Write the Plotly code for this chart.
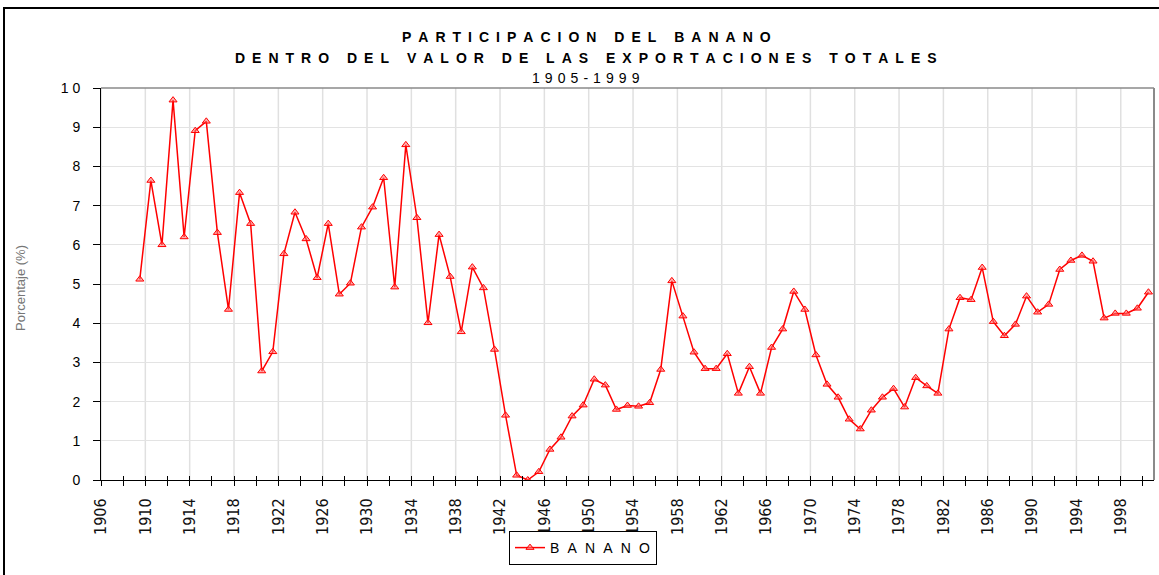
import plotly.graph_objects as go

# ---- data ----
years = list(range(1909, 2001))
banano = [5.12, 7.64, 6.00, 9.69, 6.20, 8.91, 9.15, 6.31, 4.35, 7.33, 6.54, 2.78, 3.27, 5.77, 6.83, 6.15, 5.16, 6.54, 4.74, 5.02,
          6.45, 6.96, 7.71, 4.92, 8.55, 6.69, 4.01, 6.26, 5.19, 3.78, 5.43, 4.90, 3.33, 1.65, 0.12, 0.00, 0.21, 0.78, 1.09, 1.63,
          1.91, 2.57, 2.42, 1.80, 1.90, 1.88, 1.97, 2.82, 5.08, 4.18, 3.26, 2.84, 2.84, 3.22, 2.21, 2.89, 2.21, 3.38, 3.85, 4.81,
          4.35, 3.19, 2.44, 2.11, 1.55, 1.30, 1.78, 2.11, 2.33, 1.86, 2.61, 2.40, 2.21, 3.85, 4.65, 4.60, 5.42, 4.04, 3.68, 3.97,
          4.69, 4.28, 4.48, 5.37, 5.60, 5.73, 5.58, 4.13, 4.25, 4.25, 4.38, 4.79]
label_years = list(range(1906, 1999, 4))
y_ticks = list(range(0, 11))
y_ticktext = [str(v) if v < 10 else "1 0" for v in y_ticks]
series_name = "BANANO"
title_lines = ["PARTICIPACION DEL BANANO", "DENTRO DEL VALOR DE LAS EXPORTACIONES TOTALES", "1905-1999"]
y_title = "Porcentaje (%)"

NB = "\u00a0"
EN = "\u2002"
HAIR = "\u200a"


def spaced(s, gap, word_gap):
    words = s.split(" ")
    return word_gap.join(gap.join(list(w)) for w in words)


# category slots: each year is centred in its slot; tick marks at slot edges
x_min = label_years[0] - 0.5
x_max = years[-1] + 0.5
tickvals = [y - 0.5 for y in label_years]
edge_ticks = [x_min + 2 * k for k in range(int((x_max - x_min) // 2) + 1)]
edge_text = [(str(int(v + 0.5)) if (v in tickvals) else "") for v in edge_ticks]

fig = go.Figure()
fig.add_trace(go.Scatter(
    x=years, y=banano, name=spaced(series_name, EN + HAIR, EN), mode="lines+markers",
    line=dict(color="#ff0000", width=1.5),
    marker=dict(symbol="triangle-up", size=7, color="rgba(255,110,110,0.55)",
                line=dict(color="#ff0000", width=1)),
))
# invisible helper trace for inward half of crossing tick marks
fig.add_trace(go.Scatter(x=years, y=banano, xaxis="x2", mode="none",
                         showlegend=False, hoverinfo="skip"))

W, H = 1159, 575
L, R, T, B = 101, 5, 88, 95
pw, ph = W - L - R, H - T - B


def px_x(px):
    return (px - L) / pw


def px_y(py):
    return (H - B - py) / ph


fig.update_layout(
    width=W, height=H,
    margin=dict(l=L, r=R, t=T, b=B, autoexpand=False),
    paper_bgcolor="white", plot_bgcolor="white",
    font=dict(family="Liberation Sans, Arial, sans-serif", color="black"),
    xaxis=dict(
        range=[x_min, x_max], tickmode="array", tickvals=edge_ticks, ticktext=edge_text,
        tickangle=-90, ticks="outside", ticklen=5, tickcolor="black", tickwidth=1,
        ticklabelstandoff=6, automargin=False,
        showgrid=False, showline=True, linecolor="black", linewidth=1,
        tickfont=dict(family="Liberation Sans Narrow, Arial Narrow, DejaVu Sans Condensed, sans-serif",
                      size=16, color="#111"),
        zeroline=False,
    ),
    xaxis2=dict(
        range=[x_min, x_max], overlaying="x", anchor="y", side="bottom",
        tickmode="array", tickvals=edge_ticks, ticks="inside", ticklen=4,
        tickcolor="black", showticklabels=False, showgrid=False, showline=False,
        zeroline=False, automargin=False,
    ),
    yaxis=dict(
        range=[0, 10], tickmode="array", tickvals=y_ticks, ticktext=y_ticktext,
        ticks="outside", ticklen=7, tickcolor="black", ticklabelstandoff=10,
        showgrid=True, gridcolor="#e3e3e3", gridwidth=1, automargin=False,
        showline=True, linecolor="black", linewidth=1, zeroline=False,
        tickfont=dict(size=14, color="black"),
    ),
    legend=dict(
        x=px_x(509), y=px_y(531), xanchor="left", yanchor="top",
        bordercolor="black", borderwidth=1, bgcolor="white",
        font=dict(size=14, color="black"), orientation="h",
    ),
    showlegend=True,
)

shapes = []
# vertical gridlines at labelled ticks
for v in tickvals:
    shapes.append(dict(type="line", xref="x", yref="paper", x0=v, x1=v, y0=0, y1=1,
                       line=dict(color="#e0e0e0", width=1.5), layer="below"))
# plot area top / right border (grey)
shapes.append(dict(type="line", xref="paper", yref="paper", x0=0, x1=1, y0=1, y1=1,
                   line=dict(color="#8a8a8a", width=1.5)))
shapes.append(dict(type="line", xref="paper", yref="paper", x0=1, x1=1, y0=0, y1=1,
                   line=dict(color="#8a8a8a", width=2)))
# outer chart border (partly cropped)
shapes.append(dict(type="rect", xref="paper", yref="paper",
                   x0=px_x(4), x1=px_x(1175), y0=px_y(8), y1=px_y(590),
                   line=dict(color="black", width=2), fillcolor="rgba(0,0,0,0)", layer="below"))
fig.update_layout(shapes=shapes)

ann = [
    dict(text="<b>" + spaced(title_lines[0], EN, EN + EN + NB) + "</b>", x=px_x(586), y=px_y(37), font=dict(size=14)),
    dict(text="<b>" + spaced(title_lines[1], EN, EN + EN + NB) + "</b>", x=px_x(586), y=px_y(58), font=dict(size=14)),
    dict(text=spaced(title_lines[2], NB + HAIR, NB + HAIR), x=px_x(586), y=px_y(78), font=dict(size=14)),
    dict(text=y_title, x=px_x(20), y=px_y(288), textangle=-90, font=dict(size=13, color="#767676")),
]
for a in ann:
    a.update(xref="paper", yref="paper", showarrow=False, xanchor="center", yanchor="middle")
fig.update_layout(annotations=ann)

fig.write_html("out.html", config={"displayModeBar": False},
               post_script="document.body.style.margin='0';")
